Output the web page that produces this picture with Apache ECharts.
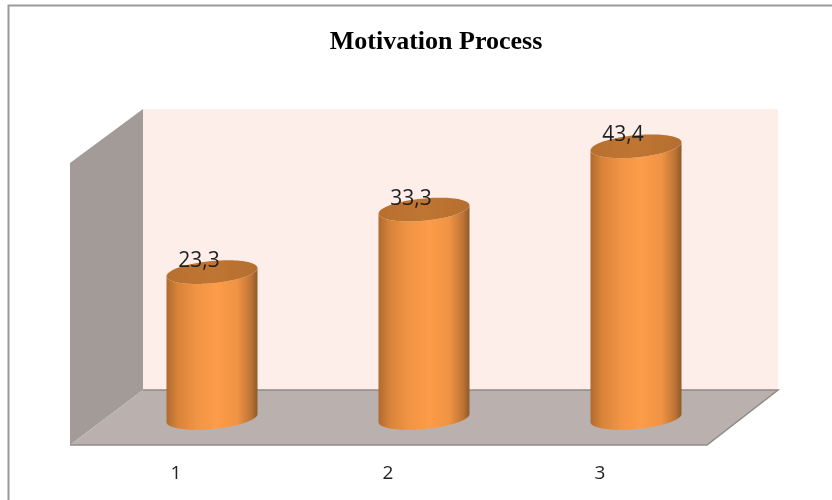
<!DOCTYPE html>
<html>
<head>
<meta charset="utf-8">
<style>html,body{margin:0;padding:0;background:#fff}#chart{width:832px;height:500px}</style>
<script src="https://cdn.jsdelivr.net/npm/echarts@6/dist/echarts.min.js"></script>
</head>
<body>
<div id="chart"></div>
<script>
const categories = ['1', '2', '3'];
const scores = [23.3, 33.3, 43.4];
const valueLabels = ['23,3', '33,3', '43,4'];

// Outline of a sheared ellipse, the cap shape of a cylinder seen from above.
function capPoint(cx, cy, rx, ry, shear, t) {
  const dx = rx * Math.cos(t);
  return [cx + dx, cy - shear * dx + ry * Math.sin(t)];
}

function renderCylinder(params, api) {
  const idx = api.value(0);
  const top = api.coord([idx, api.value(1)]);
  const base = api.coord([idx, 0]);
  const rx = api.size([1, 0])[0] * 0.2146;
  const ry = rx * 0.245;
  const shear = 0.09;
  const cx = top[0];
  const steps = 48;

  // Side wall: front half of the base ellipse, then back up over the front half of the top.
  const body = [];
  for (let i = 0; i <= steps; i++) {
    body.push(capPoint(cx, base[1], rx, ry, shear, Math.PI * i / steps));
  }
  for (let i = steps; i >= 0; i--) {
    body.push(capPoint(cx, top[1], rx, ry, shear, Math.PI * i / steps));
  }
  const cap = [];
  for (let i = 0; i < steps * 2; i++) {
    cap.push(capPoint(cx, top[1], rx, ry, shear, Math.PI * i / steps));
  }

  return {
    type: 'group',
    children: [
      {
        type: 'polygon',
        shape: { points: body },
        style: {
          fill: new echarts.graphic.LinearGradient(0, 0, 1, 0, [
            { offset: 0, color: '#b06a2e' },
            { offset: 0.12, color: '#d68339' },
            { offset: 0.32, color: '#f09343' },
            { offset: 0.55, color: '#fd9c49' },
            { offset: 0.78, color: '#f09344' },
            { offset: 0.93, color: '#bd7435' },
            { offset: 1, color: '#8f5829' }
          ])
        }
      },
      {
        type: 'polygon',
        shape: { points: cap },
        style: {
          fill: new echarts.graphic.LinearGradient(0, 0, 1, 0, [
            { offset: 0, color: '#b8702f' },
            { offset: 0.5, color: '#c07632' },
            { offset: 1, color: '#b56e30' }
          ])
        }
      },
      {
        type: 'text',
        z2: 10,
        style: {
          x: cx - 13,
          y: top[1] - 11,
          text: valueLabels[idx],
          fill: '#1f1f1f',
          font: '21px "Open Sans", "Noto Sans", sans-serif',
          align: 'center',
          verticalAlign: 'middle'
        }
      }
    ]
  };
}

const chart = echarts.init(document.getElementById('chart'), null, { renderer: 'canvas' });
chart.setOption({
  animation: false,
  backgroundColor: '#ffffff',
  title: {
    text: 'Motivation Process',
    left: 431,
    top: 24,
    textAlign: 'center',
    textStyle: {
      fontFamily: '"Liberation Serif", serif',
      fontWeight: 'bold',
      fontSize: 26,
      color: '#000000'
    }
  },
  grid: { left: 106, top: 105, width: 636, height: 313 },
  xAxis: {
    type: 'category',
    data: categories,
    axisLine: { show: false },
    axisTick: { show: false },
    axisLabel: {
      margin: 46,
      padding: [0, 72, 0, 0],
      fontFamily: '"Open Sans", "Noto Sans", sans-serif',
      fontSize: 19,
      color: '#222222'
    }
  },
  yAxis: {
    type: 'value',
    min: 0,
    max: 50,
    interval: 10,
    show: false
  },
  // Chart frame and the three faces of the box behind the cylinders.
  graphic: [
    {
      type: 'rect',
      shape: { x: 8.5, y: 5.5, width: 900, height: 600 },
      style: { fill: '#ffffff', stroke: '#9a9a9a', lineWidth: 2 }
    },
    {
      type: 'rect',
      shape: { x: 143, y: 109, width: 635, height: 281 },
      style: { fill: '#fdeee9' }
    },
    {
      type: 'polygon',
      shape: { points: [[70, 163], [143, 109], [143, 390], [70, 445]] },
      style: { fill: '#a39b97' }
    },
    {
      type: 'polygon',
      shape: { points: [[70, 445], [143, 390], [778, 390], [707, 445]] },
      style: { fill: '#bab1ae' }
    },
    {
      type: 'polyline',
      shape: { points: [[70, 445], [707, 445], [778, 390], [143, 390]] },
      style: { fill: null, stroke: '#8f8a88', lineWidth: 1.5 }
    }
  ],
  series: [
    {
      type: 'custom',
      renderItem: renderCylinder,
      encode: { x: 0, y: 1 },
      data: scores.map((v, i) => [i, v])
    }
  ]
});
</script>
</body>
</html>
